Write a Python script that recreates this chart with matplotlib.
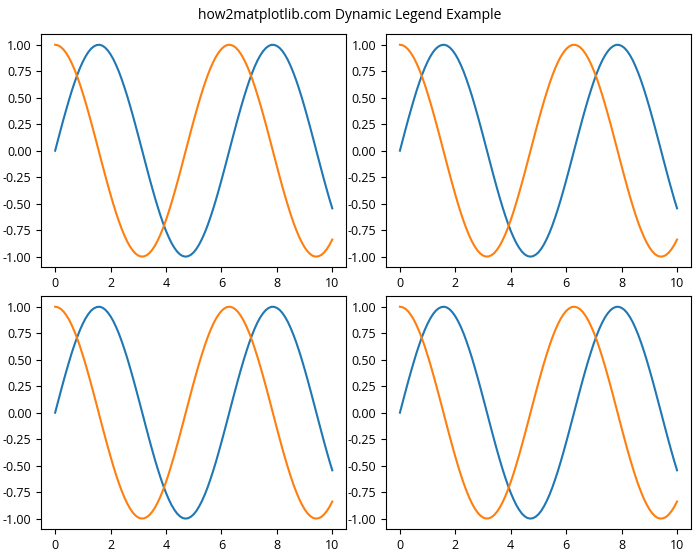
import matplotlib
matplotlib.use("Agg")
import matplotlib.pyplot as plt

plt.rcParams['font.family'] = ['Open Sans', 'DejaVu Sans']

# values, x step 0.1
x = [i * 0.1 for i in range(101)]
y_sin = [0.000, 0.100, 0.199, 0.296, 0.389, 0.479, 0.565, 0.644, 0.717, 0.783,
         0.841, 0.891, 0.932, 0.964, 0.985, 0.997, 1.000, 0.992, 0.974, 0.946,
         0.909, 0.863, 0.808, 0.746, 0.675, 0.598, 0.516, 0.427, 0.335, 0.239,
         0.141, 0.042, -0.058, -0.158, -0.256, -0.351, -0.443, -0.530, -0.612, -0.688,
         -0.757, -0.818, -0.872, -0.916, -0.952, -0.978, -0.994, -1.000, -0.996, -0.982,
         -0.959, -0.926, -0.883, -0.832, -0.773, -0.706, -0.631, -0.551, -0.465, -0.374,
         -0.279, -0.182, -0.083, 0.017, 0.117, 0.215, 0.312, 0.405, 0.494, 0.578,
         0.657, 0.729, 0.794, 0.851, 0.899, 0.938, 0.968, 0.988, 0.999, 0.999,
         0.989, 0.970, 0.941, 0.902, 0.855, 0.798, 0.734, 0.663, 0.585, 0.501,
         0.412, 0.319, 0.223, 0.124, 0.025, -0.075, -0.174, -0.272, -0.366, -0.458,
         -0.544]
y_cos = [1.000, 0.995, 0.980, 0.955, 0.921, 0.878, 0.825, 0.765, 0.697, 0.622,
         0.540, 0.454, 0.362, 0.267, 0.170, 0.071, -0.029, -0.129, -0.227, -0.323,
         -0.416, -0.505, -0.589, -0.666, -0.737, -0.801, -0.857, -0.904, -0.942, -0.971,
         -0.990, -0.999, -0.998, -0.987, -0.967, -0.936, -0.897, -0.848, -0.791, -0.726,
         -0.654, -0.575, -0.490, -0.401, -0.307, -0.211, -0.112, -0.012, 0.087, 0.187,
         0.284, 0.378, 0.469, 0.554, 0.635, 0.709, 0.776, 0.835, 0.886, 0.927,
         0.960, 0.983, 0.997, 1.000, 0.993, 0.977, 0.950, 0.914, 0.869, 0.815,
         0.754, 0.685, 0.608, 0.526, 0.439, 0.347, 0.252, 0.154, 0.054, -0.046,
         -0.146, -0.244, -0.340, -0.432, -0.519, -0.602, -0.679, -0.748, -0.811, -0.865,
         -0.911, -0.948, -0.975, -0.993, -1.000, -0.997, -0.985, -0.962, -0.930, -0.889,
         -0.839]
yticks = [-1.00, -0.75, -0.50, -0.25, 0.00, 0.25, 0.50, 0.75, 1.00]
title = "how2matplotlib.com Dynamic Legend Example"

fig, axs = plt.subplots(2, 2, figsize=(7, 5.6), dpi=100)
for ax in axs.flat:
    ax.plot(x, y_sin, color='#1f77b4', label='sin')
    ax.plot(x, y_cos, color='#ff7f0e', label='cos')
    ax.set_yticks(yticks)
    ax.set_yticklabels(["{:.2f}".format(v) for v in yticks])
    ax.tick_params(labelsize=9)

fig.suptitle(title, fontsize=10, y=0.985)
plt.subplots_adjust(left=0.059, right=0.987, top=0.939, bottom=0.055,
                    wspace=0.131, hspace=0.124)
plt.savefig("out.png")
